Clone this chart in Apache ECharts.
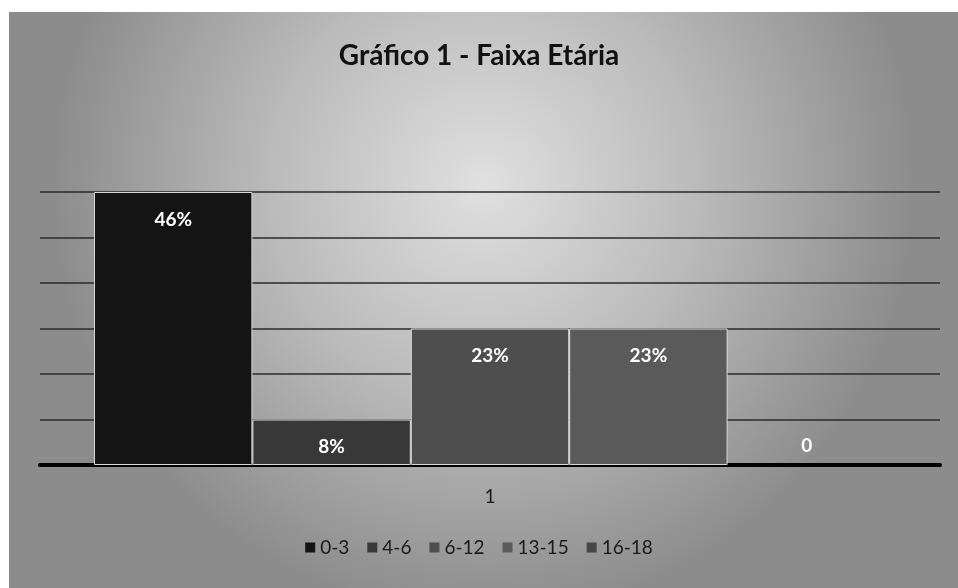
<!DOCTYPE html>
<html>
<head>
<meta charset="utf-8">
<script src="https://cdn.jsdelivr.net/npm/echarts@6/dist/echarts.min.js"></script>
<style>
  html, body { margin: 0; padding: 0; background: #fff; }
  #chart { width: 958px; height: 588px; }
</style>
</head>
<body>
<div id="chart"></div>
<script>
const TITLE = 'Gráfico 1 - Faixa Etária';
const categories = ['1'];
const seriesNames = ['0-3', '4-6', '6-12', '13-15', '16-18'];
// counts (one gridline per unit)
const seriesValues = [6, 1, 3, 3, 0];
const pctLabels = ['46%', '8%', '23%', '23%', '0'];
const barColors = ['#141414', '#383838', '#4e4e4e', '#5a5a5a', '#474747'];
const yTicks = { min: 0, max: 6, interval: 1 };

const FONT = 'Lato, "Open Sans", sans-serif';

const chart = echarts.init(document.getElementById('chart'));

const series = seriesNames.map((name, i) => ({
  name: name,
  type: 'bar',
  data: [seriesValues[i]],
  barGap: '0%',
  barCategoryGap: '12%',
  itemStyle: { color: barColors[i], borderColor: '#d8d8d8', borderWidth: seriesValues[i] ? 1 : 0 },
  label: {
    show: true,
    position: seriesValues[i] ? 'insideTop' : 'top',
    distance: seriesValues[i] ? 18 : 10,
    formatter: () => pctLabels[i],
    color: '#fff',
    fontWeight: 'bold',
    fontSize: 19,
    fontFamily: FONT,
  },
}));

chart.setOption({
  animation: false,
  graphic: [
    {
      type: 'rect',
      z: -10,
      silent: true,
      shape: { x: 9, y: 12, width: 949, height: 576 },
      style: {
        fill: {
          type: 'radial', x: 0.5, y: 0.3, r: 0.75,
          colorStops: [
            { offset: 0, color: '#e0e0e0' },
            { offset: 0.5, color: '#bababa' },
            { offset: 1, color: '#8c8c8c' },
          ],
        },
      },
    },
  ],
  title: {
    text: TITLE,
    left: 'center',
    top: 37,
    textStyle: { fontFamily: FONT, fontWeight: 'bold', fontSize: 28, color: '#111' },
  },
  legend: {
    data: seriesNames,
    bottom: 26,
    left: 'center',
    itemWidth: 10,
    itemHeight: 10,
    itemGap: 18,
    icon: 'rect',
    itemStyle: { borderWidth: 0 },
    textStyle: { fontFamily: FONT, fontSize: 19, color: '#1a1a1a' },
  },
  grid: { left: 40, right: 18, top: 192, bottom: 123 },
  xAxis: {
    type: 'category',
    data: categories,
    axisLine: { lineStyle: { color: '#000', width: 4 } },
    axisTick: { show: false },
    axisLabel: { fontFamily: FONT, fontSize: 19, color: '#1a1a1a', margin: 22 },
  },
  yAxis: {
    type: 'value',
    min: yTicks.min,
    max: yTicks.max,
    interval: yTicks.interval,
    axisLabel: { show: false },
    axisLine: { show: false },
    axisTick: { show: false },
    splitLine: { lineStyle: { color: '#2a2a2a', width: 1.5 } },
  },
  series: series,
});
</script>
</body>
</html>
